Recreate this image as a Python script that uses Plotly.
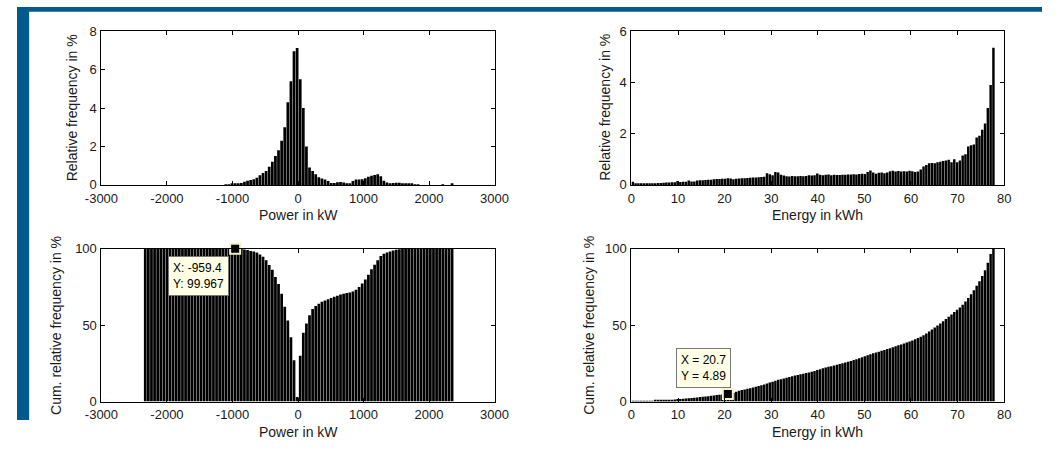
import plotly.graph_objects as go

W, H = 1056, 454

# ---------------- data ----------------
# Power histogram bins (kW): 100 bins of 47.3 kW, one centre at -959.4
power_bin_width = 47.3
power_centers = [round(-959.4 + power_bin_width * (i - 29), 1) for i in range(100)]

power_rel_freq = [0.0] * 26 + [
    0.02, 0.03, 0.04, 0.06, 0.08, 0.10, 0.17, 0.22, 0.26, 0.30, 0.37, 0.50,
    0.62, 0.72, 0.95, 1.20, 1.50, 1.80, 2.30, 3.00, 4.30, 5.40, 6.95, 7.12,
    5.50, 4.00, 2.00, 0.90, 0.72, 0.55, 0.40, 0.33, 0.28, 0.20, 0.10, 0.10,
    0.14, 0.15, 0.13, 0.05, 0.04, 0.20, 0.28, 0.28, 0.30, 0.35, 0.42, 0.48,
    0.52, 0.55, 0.45, 0.22, 0.12, 0.08, 0.10, 0.11, 0.11, 0.06, 0.05, 0.04,
    0.04, 0.03, 0.01, 0.0, 0.0, 0.0, 0.0, 0.0, 0.0, 0.0, 0.03, 0.0, 0.0, 0.07,
]

power_cum_freq = [100.0] * 29 + [
    99.967, 99.9, 99.8, 99.5, 99.1, 98.6, 98.2, 97.6, 96.3, 94.7, 92.5, 89.4,
    86.2, 81.5, 77.0, 70.5, 62.0, 53.0, 42.0, 27.0, 3.0, 30.0, 45.0, 51.0,
    56.5, 60.5, 62.5, 64.0, 65.3, 66.2, 67.0, 67.8, 68.5, 69.3, 70.0, 70.6,
    71.0, 71.3, 72.0, 73.2, 75.0, 77.2, 79.8, 83.0, 86.5, 89.5, 92.5, 95.2,
    96.8, 97.6, 98.2, 98.9, 99.4, 99.7, 99.85,
] + [100.0] * 16

# Energy histogram bins (kWh): 130 bins of 0.6 kWh
energy_bin_width = 0.6
energy_centers = [round(0.3 + energy_bin_width * k, 1) for k in range(130)]

energy_rel_freq = [
    0.12, 0.05, 0.05, 0.05, 0.05, 0.05, 0.06, 0.06, 0.06, 0.07,
    0.07, 0.08, 0.09, 0.09, 0.10, 0.10, 0.15, 0.11, 0.12, 0.12,
    0.17, 0.13, 0.13, 0.17, 0.18, 0.18, 0.19, 0.20, 0.20, 0.22,
    0.23, 0.23, 0.24, 0.24, 0.26, 0.25, 0.22, 0.24, 0.25, 0.26,
    0.26, 0.27, 0.28, 0.29, 0.29, 0.30, 0.31, 0.32, 0.46, 0.42,
    0.38, 0.50, 0.48, 0.40, 0.37, 0.34, 0.33, 0.35, 0.34, 0.34,
    0.35, 0.34, 0.35, 0.38, 0.37, 0.38, 0.45, 0.40, 0.38, 0.40,
    0.41, 0.38, 0.40, 0.39, 0.39, 0.40, 0.40, 0.41, 0.41, 0.42,
    0.41, 0.43, 0.44, 0.43, 0.50, 0.56, 0.48, 0.44, 0.47, 0.48,
    0.46, 0.48, 0.53, 0.55, 0.52, 0.54, 0.52, 0.53, 0.52, 0.55,
    0.53, 0.50, 0.52, 0.60, 0.72, 0.78, 0.85, 0.86, 0.85, 0.88,
    0.90, 0.93, 0.95, 0.98, 0.88, 1.00, 0.88, 0.95, 1.15, 1.20,
    1.50, 1.55, 1.58, 1.85, 1.92, 2.15, 2.40, 3.00, 3.90, 5.35,
]

energy_cum_freq = [
    0.1, 0.2, 0.25, 0.3, 0.35, 0.4, 0.45, 0.5, 0.55, 0.6,
    0.7, 0.8, 0.9, 1.0, 1.1, 1.3, 1.6, 1.7, 1.85, 2.0,
    2.2, 2.35, 2.5, 2.7, 2.9, 3.1, 3.3, 3.5, 3.75, 4.0,
    4.2, 4.4, 4.55, 4.7, 4.89, 5.3, 5.8, 6.4, 7.0, 7.5,
    7.9, 8.3, 8.7, 9.1, 9.6, 10.1, 10.6, 11.2, 11.8, 12.4,
    13.0, 13.6, 14.2, 14.6, 15.0, 15.5, 16.1, 16.6, 17.0, 17.4,
    17.8, 18.2, 18.6, 19.0, 19.5, 20.0, 20.6, 21.2, 21.7, 22.2,
    22.7, 23.1, 23.6, 24.1, 24.6, 25.1, 25.6, 26.1, 26.6, 27.1,
    27.7, 28.3, 28.9, 29.6, 30.3, 31.0, 31.6, 32.1, 32.6, 33.2,
    33.7, 34.3, 34.9, 35.6, 36.2, 36.8, 37.4, 38.0, 38.6, 39.3,
    40.0, 40.7, 41.5, 42.4, 43.4, 44.6, 45.9, 47.2, 48.5, 49.8,
    51.1, 52.5, 54.0, 55.5, 57.0, 58.6, 60.0, 61.6, 63.4, 65.4,
    67.8, 70.2, 72.8, 75.7, 78.8, 82.2, 86.0, 90.8, 96.5, 100.0,
]

power_ticks = [-3000, -2000, -1000, 0, 1000, 2000, 3000]
energy_ticks = [0, 10, 20, 30, 40, 50, 60, 70, 80]
rel_power_ticks = [0, 2, 4, 6, 8]
rel_energy_ticks = [0, 2, 4, 6]
cum_ticks = [0, 50, 100]

tip_power = (-959.4, 99.967)
tip_energy = (20.7, 4.89)

# ---------------- figure ----------------
FONT = "Liberation Sans, Arial, Helvetica, sans-serif"
TXT = "#1a1a1a"

fig = go.Figure()
bar_style = dict(marker=dict(color="black", line=dict(width=0)), hoverinfo="skip")
fig.add_trace(go.Bar(x=power_centers, y=power_rel_freq, xaxis="x", yaxis="y", **bar_style))
fig.add_trace(go.Bar(x=energy_centers, y=energy_rel_freq, xaxis="x2", yaxis="y2", **bar_style))
fig.add_trace(go.Bar(x=power_centers, y=power_cum_freq, xaxis="x3", yaxis="y3", **bar_style))
fig.add_trace(go.Bar(x=energy_centers, y=energy_cum_freq, xaxis="x4", yaxis="y4", **bar_style))

tip_marker = dict(symbol="square", size=10, color="black", line=dict(color="#f4f0c8", width=2))
fig.add_trace(go.Scatter(x=[tip_power[0]], y=[tip_power[1]], mode="markers", marker=tip_marker,
                         xaxis="x3", yaxis="y3", cliponaxis=False, hoverinfo="skip"))
fig.add_trace(go.Scatter(x=[tip_energy[0]], y=[tip_energy[1]], mode="markers", marker=tip_marker,
                         xaxis="x4", yaxis="y4", cliponaxis=False, hoverinfo="skip"))


def axis(domain, rng, ticks, anchor, standoff=0):
    return dict(
        domain=domain, range=rng, tickvals=ticks, ticktext=[str(t) for t in ticks],
        anchor=anchor, showline=True, linecolor="black", linewidth=1, mirror="ticks",
        ticks="inside", ticklen=4, tickcolor="black", tickwidth=1,
        showgrid=False, zeroline=False, ticklabelstandoff=standoff,
        tickfont=dict(family=FONT, size=13, color=TXT), fixedrange=True,
    )


xl = [87 / W, 492 / W]
xr = [633 / W, 1017 / W]
yt = [1 - 184 / H, 1 - 25 / H]
yb = [1 - 408 / H, 1 - 250 / H]

fig.update_layout(
    width=W, height=H, margin=dict(l=0, r=0, t=0, b=0),
    paper_bgcolor="white", plot_bgcolor="white", showlegend=False,
    bargap=0.12,
    font=dict(family=FONT, color=TXT),
    xaxis=axis(xl, [-3000, 3000], power_ticks, "y", 1),
    yaxis=axis(yt, [0, 8], rel_power_ticks, "x", 1),
    xaxis2=axis(xr, [0, 80], energy_ticks, "y2", 1),
    yaxis2=axis(yt, [0, 6], rel_energy_ticks, "x2", 1),
    xaxis3=axis(xl, [-3000, 3000], power_ticks, "y3", 1),
    yaxis3=axis(yb, [0, 100], cum_ticks, "x3", 1),
    xaxis4=axis(xr, [0, 80], energy_ticks, "y4", 1),
    yaxis4=axis(yb, [0, 100], cum_ticks, "x4", 1),
)

ann = []


def title(text, x, y, angle=0):
    ann.append(dict(text=text, x=x / W, y=1 - y / H, xref="paper", yref="paper",
                    showarrow=False, xanchor="center", yanchor="middle", textangle=angle,
                    font=dict(family=FONT, size=14, color=TXT)))


title("Power in kW", 289.5, 215)
title("Energy in kWh", 825, 215)
title("Power in kW", 289.5, 440)
title("Energy in kWh", 825, 440)
title("Relative frequency in %", 57, 104.5, -90)
title("Relative frequency in %", 605, 104, -90)
title("Cum. relative frequency in %", 40, 329, -90)
title("Cum. relative frequency in %", 589, 329, -90)

tipbox = dict(showarrow=False, align="left", bgcolor="#ffffe6", bordercolor="#777777",
              borderwidth=1, borderpad=4, font=dict(family=FONT, size=12, color="black"))
ann.append(dict(text=f"X: {tip_power[0]}<br>Y: {tip_power[1]}", x=tip_power[0], y=tip_power[1],
                xref="x3", yref="y3", xanchor="right", yanchor="top", xshift=-6, yshift=-7, **tipbox))
ann.append(dict(text=f"X = {tip_energy[0]}<br>Y = {tip_energy[1]}", x=tip_energy[0], y=tip_energy[1],
                xref="x4", yref="y4", xanchor="right", yanchor="bottom", xshift=3, yshift=6, **tipbox))
fig.update_layout(annotations=ann)

BLUE = "#005a8e"
fig.update_layout(shapes=[
    dict(type="rect", xref="paper", yref="paper", x0=0, x1=1, y0=1 - 5 / H, y1=1,
         fillcolor=BLUE, line=dict(width=0), layer="above"),
    dict(type="rect", xref="paper", yref="paper", x0=0, x1=12.5 / W, y0=1 - 427 / H, y1=1,
         fillcolor=BLUE, line=dict(width=0), layer="above"),
])

fig.write_html(
    "out.html",
    config={"displayModeBar": False},
    post_script="document.documentElement.style.margin='0';document.body.style.margin='0';"
                "document.body.style.padding='0';document.body.style.overflow='hidden';",
)
